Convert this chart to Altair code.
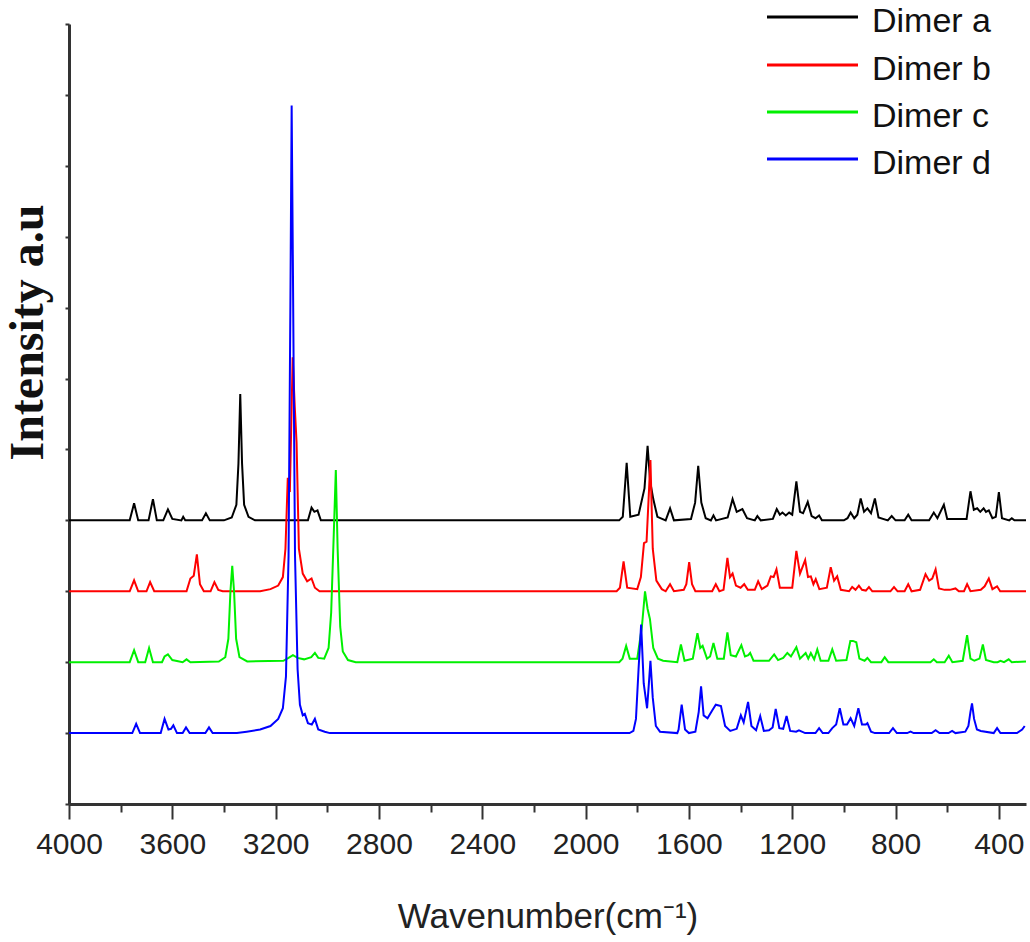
import altair as alt
import pandas as pd

# ---- data (wavenumber cm-1, intensity above own baseline) ----
DIMER_A = [
    (4000, 0), (3765, 0), (3748, 0.24), (3732, 0), (3692, 0), (3675, 0.30), (3660, 0),
    (3635, 0), (3617, 0.155), (3600, 0.02), (3565, 0), (3558, 0.05), (3550, 0),
    (3485, 0), (3470, 0.10), (3455, 0), (3400, 0), (3370, 0.04), (3352, 0.22),
    (3344, 0.8), (3337, 1.78), (3330, 0.8), (3322, 0.22), (3305, 0.05), (3280, 0),
    (3075, 0), (3061, 0.18), (3050, 0.12), (3038, 0.14), (3025, 0),
    (1870, 0), (1856, 0.05), (1841, 0.81), (1827, 0.05), (1795, 0.08), (1772, 0.45),
    (1760, 1.05), (1750, 0.55), (1738, 0.3), (1722, 0.05), (1690, 0), (1673, 0.17), (1658, 0),
    (1592, 0.02), (1576, 0.25), (1564, 0.77), (1552, 0.25), (1535, 0.03), (1515, 0),
    (1505, 0.07), (1495, 0), (1450, 0.04), (1431, 0.30), (1415, 0.12), (1393, 0.16),
    (1375, 0.03), (1345, 0), (1335, 0.06), (1322, 0), (1275, 0.02), (1260, 0.16),
    (1248, 0.08), (1238, 0.11), (1225, 0.07), (1212, 0.11), (1200, 0.08), (1184, 0.55),
    (1170, 0.12), (1158, 0.1), (1140, 0.26), (1125, 0.06), (1110, 0.03), (1096, 0.07),
    (1085, 0), (1000, 0), (986, 0.03), (974, 0.11), (960, 0.03), (948, 0.08), (935, 0.31),
    (922, 0.12), (909, 0.17), (895, 0.1), (880, 0.31), (866, 0.04), (830, 0), (815, 0.06),
    (800, 0), (765, 0), (751, 0.08), (738, 0), (670, 0), (652, 0.11), (638, 0.03),
    (613, 0.22), (600, 0.02), (525, 0.02), (510, 0.41), (497, 0.15), (484, 0.17),
    (472, 0.12), (459, 0.17), (450, 0.12), (439, 0.14), (425, 0.03), (412, 0.05),
    (400, 0.40), (388, 0.03), (360, 0), (350, 0.03), (340, 0), (295, 0),
]

DIMER_B = [
    (4000, 0), (3765, 0), (3748, 0.155), (3732, 0), (3700, 0), (3686, 0.13), (3670, 0),
    (3545, 0), (3530, 0.18), (3517, 0.22), (3505, 0.52), (3493, 0.1), (3478, 0),
    (3452, 0), (3437, 0.13), (3422, 0.02), (3405, 0), (3260, 0), (3220, 0.03),
    (3190, 0.08), (3172, 0.2), (3162, 0.6), (3153, 1.6), (3145, 1.4), (3134, 3.3),
    (3126, 2.6), (3119, 2.1), (3110, 0.6), (3095, 0.25), (3078, 0.14), (3061, 0.18),
    (3048, 0.05), (3030, 0), (1880, 0), (1867, 0.05), (1853, 0.42), (1839, 0.05),
    (1800, 0.03), (1786, 0.2), (1774, 0.68), (1764, 0.7), (1749, 1.85), (1740, 0.6),
    (1726, 0.15), (1705, 0.03), (1690, 0), (1673, 0.1), (1658, 0), (1620, 0.02),
    (1610, 0.1), (1599, 0.41), (1588, 0.1), (1575, 0), (1510, 0), (1496, 0.1), (1482, 0),
    (1466, 0.02), (1451, 0.47), (1441, 0.2), (1431, 0.25), (1418, 0.08), (1400, 0.05),
    (1386, 0.1), (1372, 0.02), (1345, 0.02), (1332, 0.14), (1318, 0.03), (1296, 0.08),
    (1283, 0.21), (1272, 0.2), (1261, 0.31), (1248, 0.05), (1200, 0.05), (1184, 0.57),
    (1170, 0.25), (1150, 0.44), (1139, 0.2), (1128, 0.21), (1118, 0.1), (1109, 0.17),
    (1095, 0.03), (1066, 0.05), (1051, 0.34), (1038, 0.15), (1026, 0.21), (1012, 0.02),
    (980, 0), (968, 0.06), (955, 0.02), (942, 0.08), (930, 0.02), (915, 0.01), (903, 0.06),
    (890, 0), (820, 0), (806, 0.06), (792, 0), (765, 0), (751, 0.1), (738, 0),
    (705, 0.02), (684, 0.24), (670, 0.15), (658, 0.18), (645, 0.31), (632, 0.04),
    (610, 0.02), (590, 0.02), (568, 0.04), (555, 0), (535, 0), (523, 0.1), (510, 0),
    (470, 0.02), (455, 0.07), (439, 0.18), (425, 0.03), (407, 0.07), (395, 0), (295, 0),
]

DIMER_C = [
    (4000, 0), (3765, 0), (3748, 0.17), (3732, 0), (3705, 0), (3690, 0.2), (3675, 0),
    (3640, 0), (3630, 0.08), (3617, 0.11), (3600, 0.03), (3560, 0), (3545, 0.04), (3530, 0),
    (3420, 0.01), (3395, 0.07), (3383, 0.33), (3375, 1.0), (3368, 1.36), (3361, 1.0),
    (3353, 0.33), (3340, 0.07), (3310, 0.01), (3170, 0.02), (3150, 0.06), (3133, 0.1),
    (3115, 0.06), (3090, 0.04), (3062, 0.07), (3048, 0.13), (3035, 0.06), (3012, 0.05),
    (2995, 0.2), (2985, 0.7), (2975, 1.8), (2967, 2.71), (2960, 1.6), (2950, 0.5),
    (2940, 0.15), (2920, 0.03), (2890, 0), (1870, 0), (1857, 0.05), (1843, 0.23),
    (1829, 0.05), (1800, 0.05), (1782, 0.5), (1770, 1.0), (1760, 0.75), (1751, 0.61),
    (1738, 0.2), (1720, 0.05), (1700, 0.02), (1645, 0), (1631, 0.25), (1617, 0.02),
    (1585, 0.05), (1567, 0.41), (1556, 0.2), (1547, 0.23), (1530, 0.05), (1518, 0.08),
    (1505, 0.27), (1490, 0.05), (1465, 0.05), (1451, 0.42), (1438, 0.1), (1418, 0.08),
    (1397, 0.24), (1383, 0.08), (1370, 0.1), (1363, 0.13), (1350, 0.02), (1290, 0.02),
    (1270, 0.11), (1255, 0.03), (1235, 0.06), (1219, 0.13), (1205, 0.08), (1184, 0.21),
    (1170, 0.05), (1148, 0.13), (1138, 0.05), (1128, 0.13), (1115, 0.04), (1103, 0.18),
    (1090, 0.02), (1060, 0.02), (1045, 0.18), (1030, 0.02), (990, 0.03), (975, 0.3),
    (965, 0.3), (952, 0.28), (940, 0.05), (920, 0.02), (909, 0.06), (895, 0), (855, 0),
    (842, 0.07), (828, 0), (665, 0), (652, 0.04), (640, 0), (610, 0), (594, 0.09), (580, 0),
    (540, 0.02), (523, 0.38), (510, 0.05), (495, 0.02), (475, 0.05), (462, 0.25),
    (450, 0.03), (420, 0), (405, 0), (394, 0.02), (380, 0), (362, 0.04), (350, 0), (295, 0.01),
]

DIMER_D = [
    (4000, 0), (3755, 0), (3740, 0.13), (3725, 0), (3645, 0), (3630, 0.2), (3615, 0.05),
    (3605, 0.06), (3596, 0.11), (3582, 0), (3560, 0), (3547, 0.08), (3533, 0), (3472, 0),
    (3458, 0.08), (3444, 0), (3350, 0), (3312, 0.02), (3260, 0.05), (3220, 0.1),
    (3190, 0.2), (3172, 0.35), (3160, 0.8), (3150, 2.5), (3143, 6.0), (3138, 8.85),
    (3133, 6.5), (3125, 2.5), (3115, 0.9), (3106, 0.4), (3095, 0.25), (3087, 0.27),
    (3075, 0.14), (3060, 0.12), (3048, 0.2), (3035, 0.05), (3010, 0.02), (2990, 0),
    (1830, 0), (1815, 0.03), (1805, 0.2), (1795, 0.9), (1785, 1.53), (1775, 0.7),
    (1762, 0.35), (1755, 0.7), (1749, 1.02), (1740, 0.5), (1728, 0.1), (1712, 0.02),
    (1645, 0), (1640, 0.05), (1628, 0.4), (1615, 0.05), (1600, 0), (1575, 0.02),
    (1562, 0.3), (1553, 0.66), (1543, 0.25), (1528, 0.21), (1510, 0.32), (1496, 0.4),
    (1476, 0.38), (1460, 0.1), (1440, 0.03), (1415, 0.06), (1399, 0.25), (1388, 0.15),
    (1371, 0.44), (1358, 0.1), (1340, 0.04), (1324, 0.24), (1310, 0.03), (1290, 0.04),
    (1276, 0.08), (1264, 0.34), (1250, 0.07), (1235, 0.06), (1222, 0.24), (1208, 0.03),
    (1185, 0.02), (1174, 0.04), (1150, 0), (1110, 0), (1096, 0.07), (1082, 0), (1060, 0),
    (1045, 0.07), (1030, 0.12), (1016, 0.35), (1002, 0.12), (988, 0.12), (974, 0.21),
    (960, 0.1), (944, 0.35), (930, 0.12), (915, 0.12), (909, 0.14), (895, 0.02), (880, 0),
    (825, 0), (810, 0.07), (795, 0), (755, 0), (742, 0.02), (730, 0), (660, 0), (645, 0.04),
    (630, 0), (595, 0), (581, 0.03), (568, 0), (530, 0.02), (518, 0.1), (510, 0.3),
    (504, 0.42), (496, 0.2), (485, 0.05), (470, 0.03), (420, 0), (407, 0.07), (394, 0),
    (330, 0), (310, 0.05), (300, 0.1),
]

SERIES_NAMES = ["Dimer a", "Dimer b", "Dimer c", "Dimer d"]
SERIES_DATA = [DIMER_A, DIMER_B, DIMER_C, DIMER_D]
SERIES_OFFSETS = [4, 3, 2, 1]
SERIES_COLORS = ["#000000", "#ff0000", "#00f000", "#0000ff"]
X_TICKS = list(range(4000, 295, -200))
Y_TICKS = list(range(0, 12))

W, H = 957, 780
LEFT, TOP = 69, 24

x_enc = alt.X(
    "wn:Q",
    scale=alt.Scale(domain=[295, 4000], reverse=True, nice=False, zero=False),
    axis=alt.Axis(
        values=X_TICKS,
        format="d",
        labelExpr="datum.value % 400 === 0 ? datum.label : ''",
        tickSize={"condition": {"test": "datum.value % 400 === 0", "value": 15}, "value": 8},
        tickWidth=2,
        tickColor="#333333",
        domainColor="#333333",
        domainWidth=3,
        labelFont="Liberation Sans",
        labelFontSize=30,
        labelColor="#222222",
        labelPadding=10,
        labelFlush=False,
        grid=False,
        title="Wavenumber(cm\u207b\u00b9)",
        titleFont="Liberation Sans",
        titleFontSize=35,
        titleFontWeight="normal",
        titleColor="#222222",
        titleBaseline="alphabetic",
        titleY=123,
    ),
)
y_enc = alt.Y(
    "val:Q",
    scale=alt.Scale(domain=[0, 11], nice=False, zero=False),
    axis=alt.Axis(
        values=Y_TICKS,
        labels=False,
        tickSize=4,
        tickWidth=2,
        tickColor="#333333",
        domainColor="#333333",
        domainWidth=3,
        grid=False,
        title="Intensity a.u",
        titleFont="Liberation Serif",
        titleFontSize=48,
        titleFontWeight="bold",
        titleColor="#111111",
        titleAngle=-90,
        titleAlign="center",
        titleBaseline="alphabetic",
        titleX=-27,
        titleY=308,
    ),
)

layers = []
for name, pts, off, col in zip(SERIES_NAMES, SERIES_DATA, SERIES_OFFSETS, SERIES_COLORS):
    df = pd.DataFrame({
        "wn": [p[0] for p in pts],
        "val": [off + p[1] for p in pts],
        "idx": list(range(len(pts))),
        "series": name,
    })
    layers.append(
        alt.Chart(df).mark_line(strokeWidth=2, color=col, interpolate="linear").encode(
            x=x_enc, y=y_enc, order=alt.Order("idx:Q")
        )
    )

# legend (top right)
LEG_Y = [-7, 41, 88, 135]
for name, col, ly in zip(SERIES_NAMES, SERIES_COLORS, LEG_Y):
    ldf = pd.DataFrame({"name": [name]})
    layers.append(
        alt.Chart(ldf).mark_rule(color=col, strokeWidth=3).encode(
            x=alt.value(698), x2=alt.value(789), y=alt.value(ly)
        )
    )
    layers.append(
        alt.Chart(ldf).mark_text(
            align="left", baseline="middle", font="Liberation Sans", fontSize=34, color="#111111"
        ).encode(x=alt.value(803), y=alt.value(ly + 5), text="name:N")
    )

chart = alt.layer(*layers).properties(
    width=W,
    height=H,
    autosize=alt.AutoSizeParams(type="none"),
    padding={"left": LEFT, "top": TOP, "right": 1030 - LEFT - W, "bottom": 942 - TOP - H},
).configure_view(strokeWidth=0)

chart.save("out.html", embed_options={"renderer": "svg", "actions": False})
